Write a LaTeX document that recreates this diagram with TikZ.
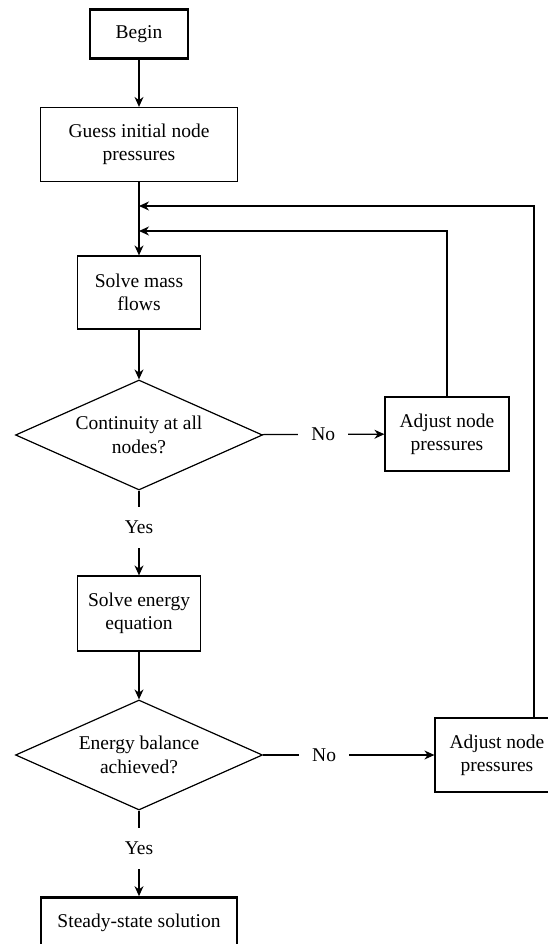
\documentclass[tikz,border=0pt]{standalone}
\usepackage{fontspec}
\setmainfont{Liberation Serif}
\usetikzlibrary{positioning}
\usetikzlibrary{shapes.geometric,arrows.meta}

\begin{document}
\begin{tikzpicture}
            [x=1pt, y=-1pt,
            font=\fontsize{19.5}{23.3}\selectfont,
            box/.style={draw, line width=1.2pt, align=center, inner sep=0pt},
            border/.style={line width=2.7pt},
            decision/.style={draw, diamond, aspect=2.25, line width=1.2pt, align=center, inner sep=0pt,
                minimum width=247pt, minimum height=110pt},
            link/.style={line width=1.2pt},
            flow/.style={link, -{Stealth[length=10pt, width=9pt]}},
            answer/.style={fill=white, inner xsep=13pt, inner ysep=14pt},
            ]
            \useasboundingbox (0,0) rectangle (547,944);

            % main column
            \node[box, border, minimum width=98pt, minimum height=49pt] (begin) at (139,34) {Begin};
            \node[box, minimum width=197pt, minimum height=74pt] (guess) at (139,144.5) {Guess initial node\\pressures};
            \node[box, minimum width=123pt, minimum height=73pt] (mass) at (139,292.5) {Solve mass\\flows};
            \node[decision] (cont) at (139,435) {Continuity at all\\nodes?};
            \node[box, minimum width=123pt, minimum height=75pt] (energy) at (139,613.5) {Solve energy\\equation};
            \node[decision] (bal) at (139,755) {Energy balance\\achieved?};
            \node[box, border, minimum width=196pt, minimum height=51pt] (steady) at (139,923) {Steady-state solution};

            % side boxes
            \node[box, minimum width=124pt, minimum height=74pt] (adj1) at (447,434) {Adjust node\\pressures};
            \node[box, minimum width=124pt, minimum height=74pt] (adj2) at (497,755) {Adjust node\\pressures};

            % where the loops come back in
            \coordinate (in1) at (139,231);
            \coordinate (in2) at (139,206);

            \draw[flow] (begin) -- (guess);
            \draw[flow] (guess) -- (mass);
            \draw[flow] (mass) -- (cont);
            \draw[flow] (cont) -- node[answer, pos=.43] (yes1) {Yes} (energy);
            \draw[flow] (energy) -- (bal);
            \draw[flow] (bal) -- node[answer, pos=.44] (yes2) {Yes} (steady);

            \draw[flow] (cont) -- node[answer] (no1) {No} (adj1);
            \draw[flow] (bal) -- node[answer, pos=.356] (no2) {No} (adj2);

            % loops
            \draw[flow] (adj1.north) |- (in1);
            \draw[flow] ([xshift=37pt]adj2.north) |- (in2);
        \end{tikzpicture}
\end{document}
